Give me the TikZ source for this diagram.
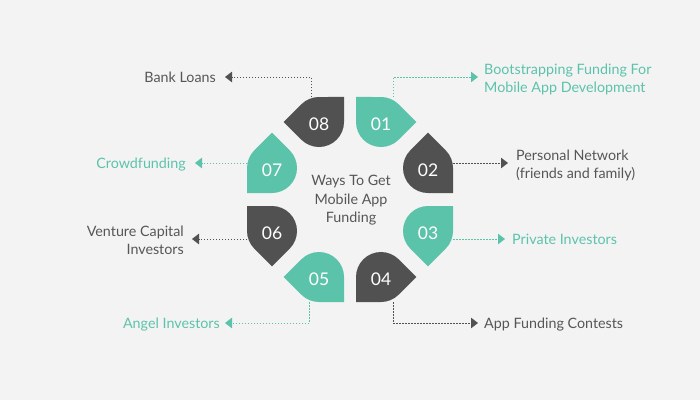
\documentclass[tikz,border=0pt]{standalone}
\usepackage{fontspec}
\setmainfont{Lato}
\usetikzlibrary{arrows.meta}
\definecolor{tealc}{RGB}{92,195,171}
\definecolor{darkc}{RGB}{80,81,80}
\definecolor{bgc}{RGB}{243,243,243}
\definecolor{textc}{RGB}{85,86,85}
\begin{document}
\begin{tikzpicture}[x=1pt,y=1pt,
  lbl/.style={font=\fontsize{14.3}{18}\selectfont, inner sep=0pt},
  one/.style={lbl, text height=11pt, text depth=0pt},
  two/.style={lbl, align=left},
  num/.style={font=\fontsize{17.5}{20}\selectfont, text=white, inner sep=0pt},
  conn/.style={line width=1pt, dash pattern=on 1.5pt off 1.5pt, -{Triangle[length=7pt,width=10.5pt]}},
]
\fill[bgc] (0,0) rectangle (700,400);
\useasboundingbox (0,0) rectangle (700,400);

% leaf shapes
\foreach \nm/\cx/\cy/\ang/\sg/\col in {01/381/278/0/1/tealc, 02/428/232/90/-1/darkc, 03/428/169/270/1/tealc, 04/381/123/0/-1/darkc, 05/319/123/180/1/tealc, 06/272/169/270/-1/darkc, 07/272/232/90/1/tealc, 08/319/278/180/-1/darkc}{
  \fill[\col, shift={(\cx,\cy)}] (\ang:35.36pt) -- ({\ang+45*\sg}:25pt)
     arc[start angle={\ang+45*\sg}, end angle={\ang+90*\sg}, radius=25pt]
     -- ({\ang+135*\sg}:35.36pt) -- ({\ang+180*\sg}:25pt)
     arc[start angle={\ang+180*\sg}, end angle={\ang+315*\sg}, radius=25pt] -- cycle;
  \node[num] (n\nm) at (\cx,\cy-2.5) {\nm};
}

% attach points
\coordinate (c01) at (393,303);
\coordinate (c02) at (453,237);
\coordinate (c03) at (453,161);
\coordinate (c04) at (393,98);
\coordinate (c05) at (309,98);
\coordinate (c06) at (247,161);
\coordinate (c07) at (247,237);
\coordinate (c08) at (311,303);

% center text
\node[font=\fontsize{14.3}{18.5}\selectfont, text=textc, align=center, inner sep=0pt] (title) at (351,199.5) {Ways To Get\\Mobile App\\Funding};

% labels
\node[one, text=textc, anchor=east] (l08) at (216,323) {Bank Loans};
\node[one, text=tealc, anchor=east] (l07) at (186,237) {Crowdfunding};
\node[lbl, text=textc, anchor=east, align=right] (l06) at (184,160) {Venture Capital\\Investors};
\node[one, text=tealc, anchor=east] (l05) at (220,77) {Angel Investors};
\node[one, text=textc, anchor=west] (l04) at (484,77) {App Funding Contests};
\node[one, text=tealc, anchor=west] (l03) at (512,161) {Private Investors};
\node[two, text=textc, anchor=west] (l02) at (516,235) {Personal Network\\(friends and family)};
\node[two, text=tealc, anchor=west] (l01) at (484,320.5) {Bootstrapping Funding For\\Mobile App Development};

% connectors
\draw[conn, darkc, shorten >=9pt] (c08) |- (l08);
\draw[conn, tealc, shorten >=9pt] (c07) -- (l07);
\draw[conn, darkc, shorten >=8pt] (c06) -- (c06 -| l06.east);
\draw[conn, tealc, shorten >=5pt] (c05) |- (l05);
\draw[conn, darkc, shorten >=6pt] (c04) |- (l04);
\draw[conn, tealc, shorten >=7pt] (c03) -- (l03);
\draw[conn, darkc, shorten >=8pt] (c02) -- (c02 -| l02.west);
\draw[conn, tealc, shorten >=6pt] (c01) |- ([yshift=2.5pt]l01.west);
\end{tikzpicture}
\end{document}
